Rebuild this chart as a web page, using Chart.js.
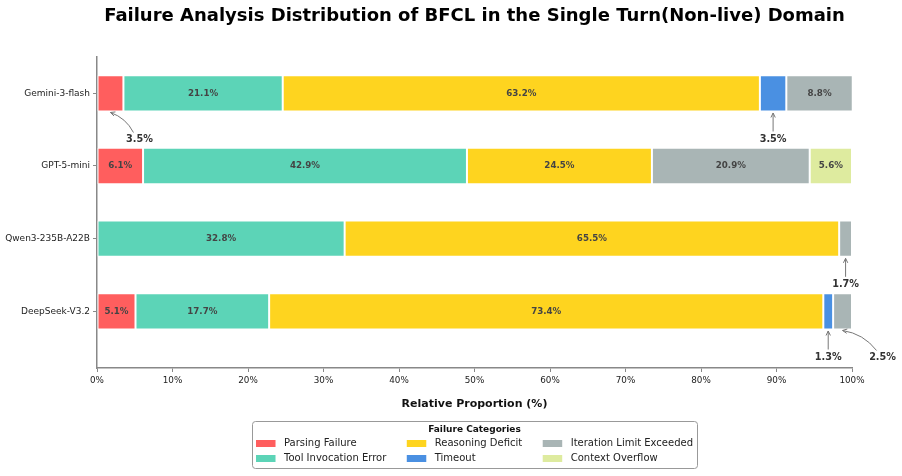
<!DOCTYPE html>
<html>
<head>
<meta charset="utf-8">
<script src="https://cdn.jsdelivr.net/npm/chart.js@4.4.1/dist/chart.umd.min.js"></script>
<style>
  html, body { margin: 0; padding: 0; background: #fff; }
  #wrap { width: 902px; height: 476px; }
</style>
</head>
<body>
<div id="wrap"><canvas id="chart" width="902" height="476"></canvas></div>
<script>
const models = ['Gemini-3-flash', 'GPT-5-mini', 'Qwen3-235B-A22B', 'DeepSeek-V3.2'];
const categories = ['Parsing Failure', 'Tool Invocation Error', 'Reasoning Deficit', 'Timeout', 'Iteration Limit Exceeded', 'Context Overflow'];

const parsingFailure = [3.5, 6.1, 0, 5.1];
const toolInvocationError = [21.1, 42.9, 32.8, 17.7];
const reasoningDeficit = [63.2, 24.5, 65.5, 73.4];
const timeoutShare = [3.5, 0, 0, 1.3];
const iterationLimit = [8.8, 20.9, 1.7, 2.5];
const contextOverflow = [0, 5.6, 0, 0];

const xTicks = [0, 10, 20, 30, 40, 50, 60, 70, 80, 90, 100];

const series = [parsingFailure, toolInvocationError, reasoningDeficit, timeoutShare, iterationLimit, contextOverflow];
const colors = ['#FF5E5E', '#5CD4B7', '#FED41F', '#4A90E2', '#A9B5B5', '#DEEB9F'];

const FONT = "'DejaVu Sans', sans-serif";
const LABEL_MIN = 5;

// callouts that sit to the right of their segment (dataset-model)
const calloutShift = { '0-0': 29, '4-3': 40 };

const datasets = series.map((vals, i) => ({
    label: categories[i],
    data: vals.map((v, j) => ({ x: v, y: j })).filter(d => d.x > 0),
    backgroundColor: colors[i],
    borderColor: '#ffffff',
    borderWidth: 1,
    borderSkipped: false,
    categoryPercentage: 1,
    barPercentage: 0.5
}));

function drawArrow(ctx, x1, y1, x2, y2, rad) {
    const mx = (x1 + x2) / 2, my = (y1 + y2) / 2;
    const cx = mx - rad * (y2 - y1), cy = my + rad * (x2 - x1);
    ctx.beginPath();
    ctx.moveTo(x1, y1);
    ctx.quadraticCurveTo(cx, cy, x2, y2);
    ctx.stroke();
    const ang = Math.atan2(y2 - cy, x2 - cx);
    const len = 5, spread = 0.45;
    ctx.beginPath();
    ctx.moveTo(x2 - len * Math.cos(ang - spread), y2 - len * Math.sin(ang - spread));
    ctx.lineTo(x2, y2);
    ctx.lineTo(x2 - len * Math.cos(ang + spread), y2 - len * Math.sin(ang + spread));
    ctx.stroke();
}

const segmentLabels = {
    id: 'segmentLabels',
    afterDatasetsDraw(chart) {
        const ctx = chart.ctx;
        ctx.save();
        chart.data.datasets.forEach((ds, di) => {
            const meta = chart.getDatasetMeta(di);
            meta.data.forEach((el, k) => {
                const pt = ds.data[k];
                const p = el.getProps(['x', 'y', 'base', 'height'], true);
                const txt = pt.x.toFixed(1) + '%';
                if (pt.x >= LABEL_MIN) {
                    ctx.font = 'bold 8.7px ' + FONT;
                    ctx.fillStyle = '#444';
                    ctx.textAlign = 'center';
                    ctx.textBaseline = 'middle';
                    ctx.fillText(txt, (p.x + p.base) / 2, p.y);
                } else {
                    const cx = (p.x + p.base) / 2;
                    const bottom = p.y + p.height / 2;
                    const shift = calloutShift[di + '-' + pt.y] || 0;
                    const tx = cx + shift, ty = bottom + 28;
                    ctx.strokeStyle = '#777';
                    ctx.lineWidth = 1;
                    if (shift) drawArrow(ctx, tx - 6, ty - 7, cx, bottom + 1, 0.2);
                    else drawArrow(ctx, cx, ty - 8, cx, bottom + 1.5, 0);
                    ctx.font = 'bold 9.7px ' + FONT;
                    ctx.fillStyle = '#333';
                    ctx.textAlign = 'center';
                    ctx.textBaseline = 'middle';
                    ctx.fillText(txt, tx, ty);
                }
            });
        });
        ctx.restore();
    }
};

const boxLegend = {
    id: 'boxLegend',
    afterDraw(chart) {
        const ctx = chart.ctx;
        const area = chart.chartArea;
        const xs = chart.scales.x;
        ctx.save();
        ctx.font = '10px ' + FONT;
        const cols = [[0, 1], [2, 3], [4, 5]];
        const sw = 19.5, gap = 8.5, colGap = 20.5, pad = 4;
        const widths = cols.map(c => sw + gap + Math.max(...c.map(i => ctx.measureText(categories[i]).width)));
        const total = pad * 2 + widths.reduce((a, b) => a + b, 0) + colGap * (cols.length - 1);
        const left = (area.left + area.right) / 2 - total / 2;
        const top = xs.bottom + 1;
        const h = 47;
        ctx.fillStyle = 'rgba(255,255,255,0.9)';
        ctx.strokeStyle = '#999';
        ctx.lineWidth = 1;
        ctx.beginPath();
        ctx.roundRect(Math.round(left) + 0.5, Math.round(top) + 0.5, Math.round(total), h, 3);
        ctx.fill();
        ctx.stroke();

        ctx.fillStyle = '#111';
        ctx.font = 'bold 9px ' + FONT;
        ctx.textAlign = 'center';
        ctx.textBaseline = 'middle';
        ctx.fillText('Failure Categories', left + total / 2, top + 8.5);

        ctx.font = '10px ' + FONT;
        ctx.textAlign = 'left';
        let x = left + pad;
        cols.forEach((c, ci) => {
            c.forEach((idx, r) => {
                const y = top + 22.5 + r * 15;
                ctx.fillStyle = colors[idx];
                ctx.fillRect(x, y - 3.5, sw, 7);
                ctx.fillStyle = '#222';
                ctx.fillText(categories[idx], x + sw + gap, y);
            });
            x += widths[ci] + colGap;
        });
        ctx.restore();
    }
};

new Chart(document.getElementById('chart'), {
    type: 'bar',
    data: { datasets },
    options: {
        indexAxis: 'y',
        responsive: false,
        animation: false,
        events: [],
        layout: { padding: { left: 0, right: 50, top: 0, bottom: 56 } },
        plugins: {
            legend: { display: false },
            tooltip: { enabled: false },
            title: {
                display: true,
                fullSize: false,
                text: 'Failure Analysis Distribution of BFCL in the Single Turn(Non-live) Domain',
                color: '#000',
                font: { family: FONT, size: 18, weight: 'bold' },
                padding: { top: 6, bottom: 29.4 }
            }
        },
        scales: {
            x: {
                type: 'linear',
                stacked: true,
                min: 0,
                max: 100,
                offset: false,
                afterBuildTicks: s => { s.ticks = xTicks.map(v => ({ value: v })); },
                afterFit: s => { s.height = 52; },
                ticks: {
                    callback: v => v + '%',
                    color: '#222',
                    font: { family: FONT, size: 8.8 },
                    padding: 3,
                    maxRotation: 0
                },
                grid: { offset: false, drawOnChartArea: false, drawTicks: true, tickLength: 4, color: '#888' },
                border: { display: true, color: '#888', width: 1.5 },
                title: {
                    display: true,
                    text: 'Relative Proportion (%)',
                    color: '#111',
                    font: { family: FONT, size: 11, weight: 'bold' },
                    padding: { top: 0, bottom: 9.4 }
                }
            },
            y: {
                type: 'linear',
                stacked: true,
                reverse: true,
                offset: false,
                min: -0.5,
                max: 3.78,
                afterBuildTicks: s => { s.ticks = models.map((m, i) => ({ value: i })); },
                afterFit: s => { s.width = 97; },
                ticks: {
                    callback: v => models[v],
                    color: '#222',
                    font: { family: FONT, size: 9 },
                    padding: 3
                },
                grid: { offset: false, drawOnChartArea: false, drawTicks: true, tickLength: 4, color: '#888' },
                border: { display: true, color: '#888', width: 1.5 }
            }
        }
    },
    plugins: [segmentLabels, boxLegend]
});
</script>
</body>
</html>
